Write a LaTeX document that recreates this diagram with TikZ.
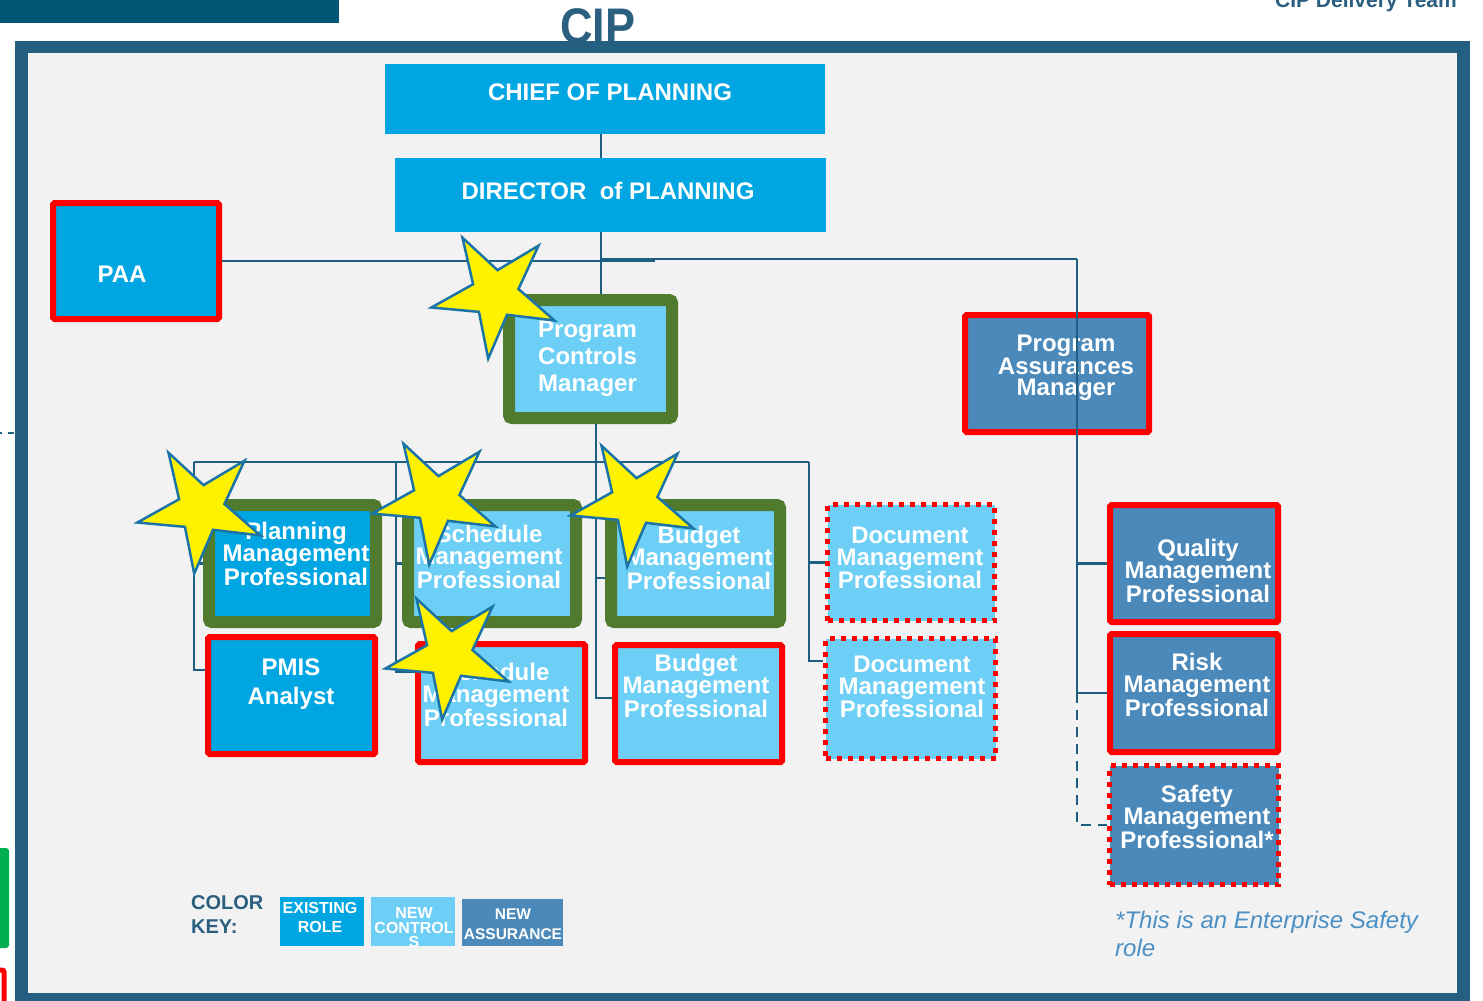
\documentclass[tikz,border=0pt]{standalone}
\usepackage{fontspec}
\setmainfont{Liberation Sans}
\usepackage{graphicx}
\definecolor{existc}{HTML}{00A6E2}
\definecolor{ctrlc}{HTML}{6DCFF6}
\definecolor{assurc}{HTML}{4A89BA}
\definecolor{greenc}{HTML}{507B2F}
\definecolor{linec}{HTML}{1D5F80}
\definecolor{framec}{HTML}{245E80}
\definecolor{bgc}{HTML}{F2F2F2}
\definecolor{topbarc}{HTML}{025676}
\definecolor{keyc}{HTML}{2A5F80}
\definecolor{notec}{HTML}{4B90C4}
\definecolor{starc}{HTML}{1C74A6}
\definecolor{greenk}{HTML}{00B050}
\newcommand\bx[7]{\node[#2, minimum width={#5-#3-2*#7}, minimum height={#6-#4-2*#7}] (#1) at ({(#3+#5)/2},{(#4+#6)/2}) {};}
\newcommand\ystar[2]{\draw[starst, shift={(#1,#2)}] (-120:65) -- (-84:24) -- (-48:65) -- (-12:24) -- (24:65) -- (60:24) -- (96:65) -- (132:24) -- (168:65) -- (204:24) -- cycle;}
\begin{document}
\begin{tikzpicture}[x=1pt,y=-1pt,
  conn/.style={draw=linec, line width=2.5pt},
  box/.style={rectangle, inner sep=0pt, outer sep=0pt},
  exist/.style={box, fill=existc},
  ctrl/.style={box, fill=ctrlc},
  assur/.style={box, fill=assurc},
  redb/.style={draw=red, line width=6pt, rounded corners=1.5pt, outer sep=3pt},
  greenb/.style={draw=greenc, line width=12pt, rounded corners=3pt, outer sep=6pt},
  dotb/.style={draw=red, line width=5pt, dash pattern=on 5pt off 6pt, outer sep=2.5pt},
  lbl/.style={text=white, font={\bfseries\fontsize{24}{22}\selectfont}, align=center, inner sep=0pt},
  keylbl/.style={text=white, align=center, inner sep=0pt},
  starst/.style={fill=yellow, draw=starc, line width=2.5pt, line join=miter}]
\useasboundingbox (0,0) rectangle (1483,1001);
\fill[white] (0,0) rectangle (1483,1001);
% header
\fill[topbarc] (0,0) rectangle (339,23);
\node[anchor=base, inner sep=0pt, text=keyc, font={\bfseries\fontsize{50}{50}\selectfont}] (cip) at (598,43) {\scalebox{0.9}[1]{CIP}};
\node[anchor=base east, inner sep=0pt, text=keyc, font={\bfseries\fontsize{21}{21}\selectfont}] (cdt) at (1457,7) {CIP Delivery Team};
% frame
\fill[framec] (15,41) rectangle (1470,1015);
\fill[bgc] (28,53) rectangle (1457,993);
% left edge bits
\draw[framec, line width=2pt, dash pattern=on 6pt off 6pt] (-4,433) -- (15,433);
\fill[greenk, rounded corners=3pt] (-20,848) rectangle (9,948);
\draw[red, line width=5pt, rounded corners=2pt] (-30,970) rectangle (4,1030);
% boxes
\bx{chief}{exist}{385}{64}{825}{134}{0}
\bx{director}{exist}{395}{158}{826}{232}{0}
\bx{paa}{exist,redb}{50}{200}{222}{322}{3}
\bx{pcm}{ctrl,greenb}{503}{294}{678}{424}{6}
\bx{pam}{assur,redb}{962}{312}{1152}{435}{3}
\bx{plan}{exist,greenb}{203}{499}{382}{628}{6}
\bx{sched1}{ctrl,greenb}{402}{499}{582}{628}{6}
\bx{budg1}{ctrl,greenb}{605}{499}{786}{628}{6}
\bx{doc1}{ctrl,dotb}{825}{502}{997}{623}{2.5}
\bx{pmis}{exist,redb}{205}{634}{378}{757}{3}
\bx{sched2}{ctrl,redb}{415}{641}{588}{765}{3}
\bx{budg2}{ctrl,redb}{612}{642}{785}{765}{3}
\bx{doc2}{ctrl,dotb}{823}{636}{998}{761}{2.5}
\bx{qual}{assur,redb}{1107}{502}{1281}{625}{3}
\bx{risk}{assur,redb}{1107}{631}{1281}{755}{3}
\bx{safe}{assur,dotb}{1107}{763}{1281}{887}{2.5}
% junction coordinates
\coordinate (spine) at (601,259);
\coordinate (asTop) at (1077,259);
\coordinate (paaEnd) at (655,262);
\coordinate (vL) at (194,462);
\coordinate (vS) at (396,462);
\coordinate (vB) at (596,462);
\coordinate (vD) at (809,462);
% labels
\node[lbl] (chiefT) at (610,92) {CHIEF OF PLANNING};
\node[lbl] (dirT) at (608,191) {DIRECTOR\ \ of PLANNING};
\node[lbl] (paaT) at (122,274) {PAA};
\node[lbl, anchor=west, align=left, font={\bfseries\fontsize{24}{27}\selectfont}] (pcmT) at (538,359) {Program\\Controls\\Manager};
\node[lbl, font={\bfseries\fontsize{24}{21.5}\selectfont}] (pamT) at (1066,368) {Program\\Assurances\\Manager};
\node[lbl] (planT) at (296,554) {Planning\\Management\\Professional};
\node[lbl] (sched1T) at (489,557) {Schedule\\Management\\Professional};
\node[lbl] (budg1T) at (699,558) {Budget\\Management\\Professional};
\node[lbl] (doc1T) at (910,558) {Document\\Management\\Professional};
\node[lbl, font={\bfseries\fontsize{24}{29}\selectfont}] (pmisT) at (291,684) {PMIS\\Analyst};
\node[lbl] (sched2T) at (496,695) {Schedule\\Management\\Professional};
\node[lbl] (budg2T) at (696,686) {Budget\\Management\\Professional};
\node[lbl] (doc2T) at (912,687) {Document\\Management\\Professional};
\node[lbl] (qualT) at (1198,571) {Quality\\Management\\Professional};
\node[lbl] (riskT) at (1197,685) {Risk\\Management\\Professional};
\node[lbl] (safeT) at (1197,817) {Safety\\Management\\Professional*};
% color key
\node[anchor=west, align=left, inner sep=0pt, text=keyc, font={\bfseries\fontsize{20}{24}\selectfont}] (keyT) at (191,915) {COLOR\\KEY:};
\bx{k1}{exist}{280}{897}{364}{946}{0}
\bx{k2}{ctrl}{371}{897}{455}{946}{0}
\bx{k3}{assur}{462}{899}{563}{946}{0}
\node[keylbl, font={\bfseries\fontsize{16}{19}\selectfont}] (k1T) at (320,917) {EXISTING\\ROLE};
\node[keylbl, font={\bfseries\fontsize{16}{14.5}\selectfont}] (k2T) at (414,928) {NEW\\CONTROL\\S};
\node[keylbl, font={\bfseries\fontsize{15.5}{20}\selectfont}] (k3T) at (513,924) {NEW\\ASSURANCE};
% note
\node[anchor=north west, align=left, inner sep=0pt, text=notec, font={\itshape\fontsize{24}{28}\selectfont}] (note) at (1115,911) {*This is an Enterprise Safety\\role};
% connectors
\draw[conn] (chief.south -| spine) -- (director.north -| spine);
\draw[conn] (director.south -| spine) -- (pcm.north -| spine);
\draw[conn] (paa.east) -- (paa.east -| paaEnd);
\draw[conn] (spine) -- (asTop);
\draw[conn] (vL) -- (vD);
\draw[conn] (pcm.south -| vB) |- ([yshift=5.5pt]budg2.west);
\draw[conn] ([yshift=-14.5pt]budg1.west -| vB) -- ([yshift=-14.5pt]budg1.west);
\draw[conn] (vL) |- ([yshift=25.5pt]pmis.west);
\draw[conn] (vL |- plan.west) -- (plan.west);
\draw[conn] (vS) |- ([yshift=31pt]sched2.west);
\draw[conn] (vS |- sched1.west) -- (sched1.west);
\draw[conn] (vD) |- ([yshift=37.5pt]doc2.west);
\draw[conn] (vD |- doc1.west) -- (doc1.west);
\draw[conn] (asTop) |- (risk.west);
\draw[conn] (asTop |- qual.west) -- (qual.west);
\draw[conn, dash pattern=on 10pt off 7pt] (asTop |- risk.west) |- (safe.west);
% stars
\ystar{495}{294}
\ystar{201}{509}
\ystar{436}{500}
\ystar{634}{502}
\ystar{449}{655}
\end{tikzpicture}
\end{document}
